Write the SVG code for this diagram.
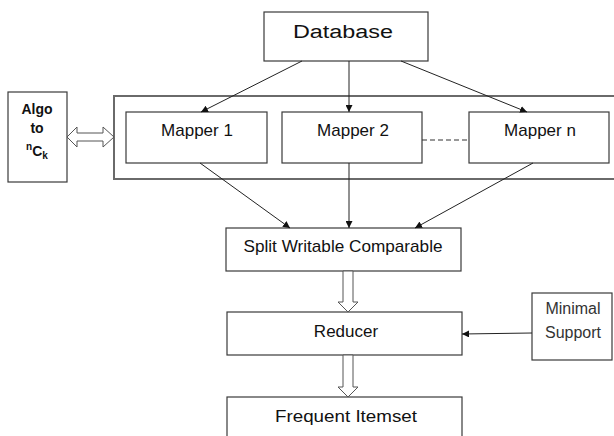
<svg xmlns="http://www.w3.org/2000/svg" width="614" height="436" viewBox="0 0 614 436">
<defs>
<style>
.box{fill:#fff;stroke:#3a3a3a;stroke-width:1.2}
.outer{fill:none;stroke:#6a6a6a;stroke-width:2}
.t{font-family:"Liberation Sans",Arial,sans-serif;fill:#111;text-anchor:middle}
.m{font-size:17px}
.b{font-weight:bold;font-size:14px}
.lt{font-size:16px;fill:#333}
.c{stroke:#222;stroke-width:1;fill:none}
.hollow{fill:#fff;stroke:#555;stroke-width:1}
</style>
<marker id="ah" viewBox="0 0 10 10" refX="10" refY="5" markerWidth="7" markerHeight="7" markerUnits="userSpaceOnUse" orient="auto">
<path d="M0,0 L10,5 L0,10 z" fill="#111"/>
</marker>
</defs>
<rect x="0" y="0" width="614" height="436" fill="#fff"/>

<g id="container"><rect class="outer" x="114" y="96" width="510" height="83"/></g>

<g id="database"><rect class="box" x="264" y="12" width="164" height="49"/><text class="t" x="343" y="38" font-size="18" textLength="100" lengthAdjust="spacingAndGlyphs">Database</text></g>

<g id="mapper1"><rect class="box" x="126" y="112" width="141" height="51"/><text class="t m" x="197" y="136">Mapper 1</text></g>
<g id="mapper2"><rect class="box" x="282" y="112" width="140" height="51"/><text class="t m" x="353" y="136">Mapper 2</text></g>
<g id="mappern"><rect class="box" x="469" y="112" width="140" height="51"/><text class="t m" x="540" y="136">Mapper n</text></g>

<g id="algo"><rect class="box" x="8" y="92" width="59" height="90"/>
<text class="t b" x="37" y="114">Algo</text>
<text class="t b" x="37" y="133">to</text>
<text class="t b" x="37" y="156" style="text-anchor:middle"><tspan font-size="10" dy="-6">n</tspan><tspan dy="6">C</tspan><tspan font-size="10" dy="3">k</tspan></text>
</g>

<g id="split"><rect class="box" x="226" y="228" width="235" height="43"/><text class="t m" x="343" y="252" textLength="199" lengthAdjust="spacingAndGlyphs">Split Writable Comparable</text></g>
<g id="reducer"><rect class="box" x="227" y="312" width="235" height="43"/><text class="t m" x="346" y="337">Reducer</text></g>
<g id="frequent"><rect class="box" x="227" y="397" width="235" height="50"/><text class="t m" x="346" y="422" textLength="142" lengthAdjust="spacingAndGlyphs">Frequent Itemset</text></g>
<g id="minsupport"><rect class="box" x="532" y="293" width="80" height="67"/>
<text class="t lt" x="573" y="314">Minimal</text>
<text class="t lt" x="573" y="338">Support</text></g>

<g id="connectors">
<line class="c" x1="302" y1="61" x2="201" y2="112" marker-end="url(#ah)"/>
<line class="c" x1="349" y1="61" x2="349" y2="112" marker-end="url(#ah)"/>
<line class="c" x1="401" y1="61" x2="527" y2="112" marker-end="url(#ah)"/>
<line class="c" x1="200" y1="163" x2="290" y2="228" marker-end="url(#ah)"/>
<line class="c" x1="349" y1="163" x2="349" y2="228" marker-end="url(#ah)"/>
<line class="c" x1="533" y1="163" x2="415" y2="228" marker-end="url(#ah)"/>
<line x1="422" y1="140" x2="469" y2="140" stroke="#333" stroke-width="1.2" stroke-dasharray="5,3"/>
<line class="c" x1="532" y1="333" x2="462" y2="334" marker-end="url(#ah)"/>
<path class="hollow" d="M343,271 L353,271 L353,302 L358,302 L348,312 L338,302 L343,302 Z"/>
<path class="hollow" d="M343,355 L353,355 L353,387 L358,387 L348,397 L338,387 L343,387 Z"/>
<path class="hollow" d="M67,137 L77,127 L77,133 L103,133 L103,127 L114,137 L103,147 L103,141 L77,141 L77,147 Z"/>
</g>
</svg>
